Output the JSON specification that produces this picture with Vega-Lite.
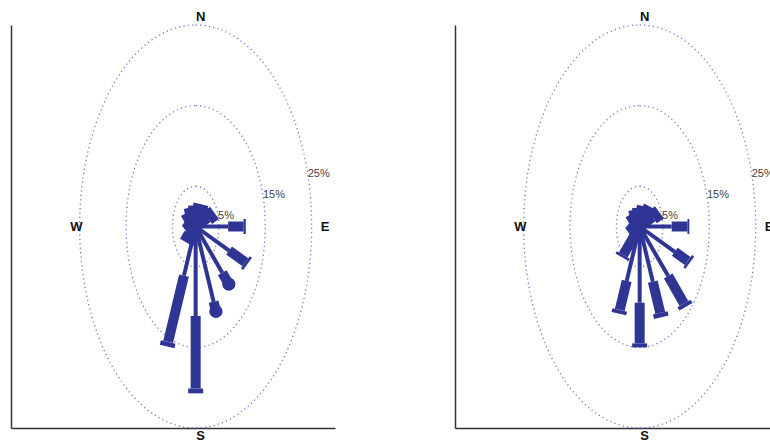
{
  "$schema": "https://vega.github.io/schema/vega-lite/v6.json",
  "background": "white",
  "padding": {"left": 11, "top": 10, "right": 0, "bottom": 0},
  "spacing": 120,
  "datasets": {
    "rings": [{"pct": 5}, {"pct": 15}, {"pct": 25}],
    "compass": [
      {"label": "N", "d": 0, "r": 26.0},
      {"label": "E", "d": 90, "r": 26.8},
      {"label": "S", "d": 180, "r": 26.0},
      {"label": "W", "d": 270, "r": 26.8}
    ],
    "spokes": [
      {"p": "A", "d": 0, "a": 0, "b": 0.8, "c": 2.6, "end": "bar"},
      {"p": "A", "d": 22.5, "a": 0, "b": 0.8, "c": 3.0, "end": "bar"},
      {"p": "A", "d": 45, "a": 0, "b": 0.8, "c": 3.3, "end": "bar"},
      {"p": "A", "d": 67.5, "a": 0, "b": 2.8, "c": 4.4, "end": "bar"},
      {"p": "A", "d": 90, "a": 7.0, "b": 10.3, "c": 10.8, "end": "bar"},
      {"p": "A", "d": 112.5, "a": 7.8, "b": 11.6, "c": 12.1, "end": "bar"},
      {"p": "A", "d": 135, "a": 8.1, "b": 9.6, "c": 10.1, "end": "dot"},
      {"p": "A", "d": 157.5, "a": 10.1, "b": 11.0, "c": 11.4, "end": "dot"},
      {"p": "A", "d": 180, "a": 11.1, "b": 20.1, "c": 20.7, "end": "bar"},
      {"p": "A", "d": 202.5, "a": 6.6, "b": 15.5, "c": 16.1, "end": "bar"},
      {"p": "A", "d": 225, "a": 0, "b": 1.4, "c": 2.8, "end": "bar"},
      {"p": "A", "d": 247.5, "a": 0, "b": 0.8, "c": 2.0, "end": "bar"},
      {"p": "A", "d": 270, "a": 0, "b": 0.8, "c": 2.0, "end": "bar"},
      {"p": "A", "d": 292.5, "a": 0, "b": 0.8, "c": 2.2, "end": "bar"},
      {"p": "A", "d": 315, "a": 0, "b": 0.8, "c": 2.5, "end": "bar"},
      {"p": "A", "d": 337.5, "a": 0, "b": 0.8, "c": 2.6, "end": "bar"},
      {"p": "B", "d": 0, "a": 0, "b": 0.8, "c": 2.3, "end": "bar"},
      {"p": "B", "d": 22.5, "a": 0, "b": 0.8, "c": 2.7, "end": "bar"},
      {"p": "B", "d": 45, "a": 0, "b": 0.8, "c": 3.4, "end": "bar"},
      {"p": "B", "d": 67.5, "a": 0, "b": 3.0, "c": 4.6, "end": "bar"},
      {"p": "B", "d": 90, "a": 6.9, "b": 10.3, "c": 10.7, "end": "bar"},
      {"p": "B", "d": 112.5, "a": 8.2, "b": 11.2, "c": 11.7, "end": "bar"},
      {"p": "B", "d": 135, "a": 8.7, "b": 13.5, "c": 14.1, "end": "bar"},
      {"p": "B", "d": 157.5, "a": 7.4, "b": 11.6, "c": 12.2, "end": "bar"},
      {"p": "B", "d": 180, "a": 9.45, "b": 14.5, "c": 15.0, "end": "bar"},
      {"p": "B", "d": 202.5, "a": 7.3, "b": 11.2, "c": 11.7, "end": "bar"},
      {"p": "B", "d": 225, "a": 1.5, "b": 5.0, "c": 5.4, "end": "bar"},
      {"p": "B", "d": 247.5, "a": 0, "b": 0.8, "c": 2.4, "end": "bar"},
      {"p": "B", "d": 270, "a": 0, "b": 0.8, "c": 1.9, "end": "bar"},
      {"p": "B", "d": 292.5, "a": 0, "b": 0.8, "c": 2.0, "end": "bar"},
      {"p": "B", "d": 315, "a": 0, "b": 0.8, "c": 2.3, "end": "bar"},
      {"p": "B", "d": 337.5, "a": 0, "b": 0.8, "c": 2.3, "end": "bar"}
    ]
  },
  "hconcat": [
    {
      "width": 324,
      "height": 403,
      "layer": [
        {
          "data": {"name": "rings"},
          "transform": [{"calculate": "0", "as": "cx"}],
          "mark": {"type": "point", "filled": false, "shape": "M0,-1C0.318,-1,0.5757,-0.5523,0.5757,0C0.5757,0.5523,0.318,1,0,1C-0.318,1,-0.5757,0.5523,-0.5757,0C-0.5757,-0.5523,-0.318,-1,0,-1Z", "stroke": "#5050d0", "strokeWidth": 1.3, "strokeDash": [1.2, 3.2], "opacity": 0.8},
          "encoding": {
            "x": {"field": "cx", "type": "quantitative", "scale": {"domain": [-39.8, 30.03], "nice": false, "zero": false}, "title": null},
            "y": {"field": "cx", "type": "quantitative", "scale": {"domain": [-25, 25], "nice": false, "zero": false}, "title": null},
            "size": {"field": "pct", "type": "quantitative", "scale": {"type": "pow", "exponent": 2, "domain": [0, 25], "range": [0, 162409]}, "legend": null}
          }
        },
        {
          "data": {"name": "spokes"},
          "transform": [
            {"filter": "datum.p == 'A'"},
            {"calculate": "sin(datum.d*PI/180)", "as": "sx"},
            {"calculate": "cos(datum.d*PI/180)", "as": "cy"},
            {"calculate": "0", "as": "x0"},
            {"calculate": "datum.a*datum.sx", "as": "xa"},
            {"calculate": "datum.a*datum.cy", "as": "ya"},
            {"calculate": "datum.b*datum.sx", "as": "xb"},
            {"calculate": "datum.b*datum.cy", "as": "yb"},
            {"calculate": "datum.c*datum.sx", "as": "xc"},
            {"calculate": "datum.c*datum.cy", "as": "yc"}
          ],
          "layer": [
            {
              "transform": [{"filter": "datum.a > 0"}],
              "mark": {"type": "rule", "color": "#2e3594", "strokeWidth": 4, "strokeCap": "butt"},
              "encoding": {
                "x": {"field": "x0", "type": "quantitative", "title": null},
                "y": {"field": "x0", "type": "quantitative", "title": null},
                "x2": {"field": "xa"},
                "y2": {"field": "ya"}
              }
            },
            {
              "mark": {"type": "rule", "color": "#2e3594", "strokeWidth": 10, "strokeCap": "butt"},
              "encoding": {
                "x": {"field": "xa", "type": "quantitative", "title": null},
                "y": {"field": "ya", "type": "quantitative", "title": null},
                "x2": {"field": "xb"},
                "y2": {"field": "yb"}
              }
            },
            {
              "transform": [{"filter": "datum.end == 'bar'"}],
              "mark": {"type": "rule", "color": "#2e3594", "strokeWidth": 15, "strokeCap": "butt"},
              "encoding": {
                "x": {"field": "xb", "type": "quantitative", "title": null},
                "y": {"field": "yb", "type": "quantitative", "title": null},
                "x2": {"field": "xc"},
                "y2": {"field": "yc"}
              }
            },
            {
              "transform": [{"filter": "datum.end == 'dot'"}],
              "mark": {"type": "point", "shape": "circle", "filled": true, "color": "#2e3594", "size": 175, "opacity": 1},
              "encoding": {
                "x": {"field": "xc", "type": "quantitative", "title": null},
                "y": {"field": "yc", "type": "quantitative", "title": null}
              }
            }
          ]
        },
        {
          "data": {"name": "rings"},
          "transform": [
            {"calculate": "datum.pct + '%'", "as": "label"},
            {"calculate": "datum.pct*sin(75*PI/180)", "as": "lx"},
            {"calculate": "datum.pct*cos(75*PI/180)", "as": "ly"}
          ],
          "mark": {"type": "text", "align": "left", "baseline": "middle", "font": "Liberation Sans", "fontSize": 11, "fill": "#444444"},
          "encoding": {
            "x": {"field": "lx", "type": "quantitative", "title": null},
            "y": {"field": "ly", "type": "quantitative", "title": null},
            "text": {"field": "label"}
          }
        },
        {
          "data": {"name": "compass"},
          "transform": [
            {"calculate": "datum.r*sin(datum.d*PI/180)", "as": "lx"},
            {"calculate": "datum.r*cos(datum.d*PI/180)", "as": "ly"}
          ],
          "mark": {"type": "text", "align": "center", "baseline": "middle", "dx": 5, "font": "Liberation Sans", "fontSize": 13, "fontWeight": "bold", "fill": "#111111"},
          "encoding": {
            "x": {"field": "lx", "type": "quantitative", "title": null},
            "y": {"field": "ly", "type": "quantitative", "title": null},
            "text": {"field": "label"}
          }
        }
      ]
    },
    {
      "width": 324,
      "height": 403,
      "layer": [
        {
          "data": {"name": "rings"},
          "transform": [{"calculate": "0", "as": "cx"}],
          "mark": {"type": "point", "filled": false, "shape": "M0,-1C0.318,-1,0.5757,-0.5523,0.5757,0C0.5757,0.5523,0.318,1,0,1C-0.318,1,-0.5757,0.5523,-0.5757,0C-0.5757,-0.5523,-0.318,-1,0,-1Z", "stroke": "#5050d0", "strokeWidth": 1.3, "strokeDash": [1.2, 3.2], "opacity": 0.8},
          "encoding": {
            "x": {"field": "cx", "type": "quantitative", "scale": {"domain": [-39.8, 30.03], "nice": false, "zero": false}, "title": null},
            "y": {"field": "cx", "type": "quantitative", "scale": {"domain": [-25, 25], "nice": false, "zero": false}, "title": null},
            "size": {"field": "pct", "type": "quantitative", "scale": {"type": "pow", "exponent": 2, "domain": [0, 25], "range": [0, 162409]}, "legend": null}
          }
        },
        {
          "data": {"name": "spokes"},
          "transform": [
            {"filter": "datum.p == 'B'"},
            {"calculate": "sin(datum.d*PI/180)", "as": "sx"},
            {"calculate": "cos(datum.d*PI/180)", "as": "cy"},
            {"calculate": "0", "as": "x0"},
            {"calculate": "datum.a*datum.sx", "as": "xa"},
            {"calculate": "datum.a*datum.cy", "as": "ya"},
            {"calculate": "datum.b*datum.sx", "as": "xb"},
            {"calculate": "datum.b*datum.cy", "as": "yb"},
            {"calculate": "datum.c*datum.sx", "as": "xc"},
            {"calculate": "datum.c*datum.cy", "as": "yc"}
          ],
          "layer": [
            {
              "transform": [{"filter": "datum.a > 0"}],
              "mark": {"type": "rule", "color": "#2e3594", "strokeWidth": 4, "strokeCap": "butt"},
              "encoding": {
                "x": {"field": "x0", "type": "quantitative", "title": null},
                "y": {"field": "x0", "type": "quantitative", "title": null},
                "x2": {"field": "xa"},
                "y2": {"field": "ya"}
              }
            },
            {
              "mark": {"type": "rule", "color": "#2e3594", "strokeWidth": 10, "strokeCap": "butt"},
              "encoding": {
                "x": {"field": "xa", "type": "quantitative", "title": null},
                "y": {"field": "ya", "type": "quantitative", "title": null},
                "x2": {"field": "xb"},
                "y2": {"field": "yb"}
              }
            },
            {
              "transform": [{"filter": "datum.end == 'bar'"}],
              "mark": {"type": "rule", "color": "#2e3594", "strokeWidth": 15, "strokeCap": "butt"},
              "encoding": {
                "x": {"field": "xb", "type": "quantitative", "title": null},
                "y": {"field": "yb", "type": "quantitative", "title": null},
                "x2": {"field": "xc"},
                "y2": {"field": "yc"}
              }
            }
          ]
        },
        {
          "data": {"name": "rings"},
          "transform": [
            {"calculate": "datum.pct + '%'", "as": "label"},
            {"calculate": "datum.pct*sin(75*PI/180)", "as": "lx"},
            {"calculate": "datum.pct*cos(75*PI/180)", "as": "ly"}
          ],
          "mark": {"type": "text", "align": "left", "baseline": "middle", "font": "Liberation Sans", "fontSize": 11, "fill": "#444444"},
          "encoding": {
            "x": {"field": "lx", "type": "quantitative", "title": null},
            "y": {"field": "ly", "type": "quantitative", "title": null},
            "text": {"field": "label"}
          }
        },
        {
          "data": {"name": "compass"},
          "transform": [
            {"calculate": "datum.r*sin(datum.d*PI/180)", "as": "lx"},
            {"calculate": "datum.r*cos(datum.d*PI/180)", "as": "ly"}
          ],
          "mark": {"type": "text", "align": "center", "baseline": "middle", "dx": 5, "font": "Liberation Sans", "fontSize": 13, "fontWeight": "bold", "fill": "#111111"},
          "encoding": {
            "x": {"field": "lx", "type": "quantitative", "title": null},
            "y": {"field": "ly", "type": "quantitative", "title": null},
            "text": {"field": "label"}
          }
        }
      ]
    }
  ],
  "config": {
    "view": {"stroke": null},
    "axis": {"domain": true, "domainColor": "#333333", "domainWidth": 1.5, "ticks": false, "labels": false, "grid": false}
  }
}
